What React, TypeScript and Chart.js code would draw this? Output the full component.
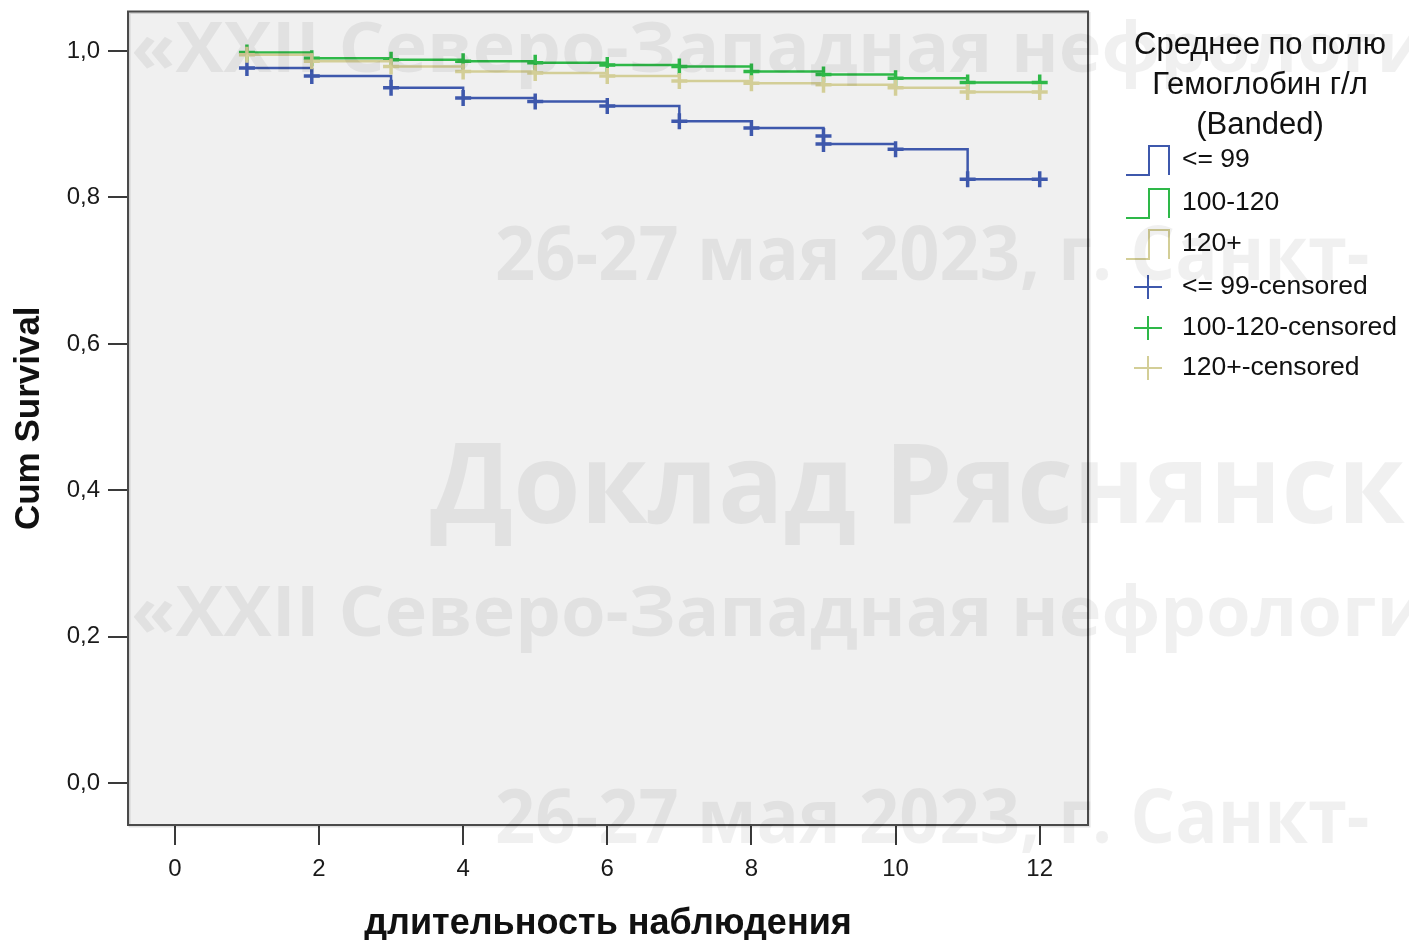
import React, { useEffect, useRef } from 'react';
import { Chart, registerables } from 'chart.js';

Chart.register(...registerables);

// ---------- data ----------
const xTickValues = [0, 2, 4, 6, 8, 10, 12];
const yTickValues = [0, 0.2, 0.4, 0.6, 0.8, 1.0];

const eventTimes = [1, 1.9, 3, 4, 5, 6, 7, 8, 9, 10, 11, 12];
const survLow = [0.977, 0.966, 0.95, 0.936, 0.931, 0.925, 0.904, 0.895, 0.873, 0.866, 0.825, 0.825];
const survMid = [0.998, 0.99, 0.988, 0.986, 0.984, 0.981, 0.979, 0.972, 0.968, 0.963, 0.957, 0.957];
const survHigh = [0.995, 0.986, 0.979, 0.972, 0.97, 0.966, 0.959, 0.956, 0.954, 0.95, 0.944, 0.944];

const censorTimesLow = [1, 1.9, 3, 4, 5, 6, 7, 8, 9, 9, 10, 11, 12];
const censorValsLow = [0.977, 0.966, 0.95, 0.936, 0.931, 0.925, 0.904, 0.895, 0.884, 0.873, 0.866, 0.825, 0.825];
const censorTimesMid = [1, 1.9, 3, 4, 5, 6, 7, 8, 9, 10, 11, 12];
const censorValsMid = [0.998, 0.99, 0.988, 0.986, 0.984, 0.981, 0.979, 0.972, 0.968, 0.963, 0.957, 0.957];
const censorTimesHigh = [1, 1.9, 3, 4, 5, 6, 7, 8, 9, 10, 11, 12];
const censorValsHigh = [0.995, 0.986, 0.979, 0.972, 0.97, 0.966, 0.959, 0.956, 0.954, 0.95, 0.944, 0.944];

const groupLabels = ['<= 99', '100-120', '120+'];
const censorLabels = ['<= 99-censored', '100-120-censored', '120+-censored'];
const legendTitle = ['Среднее по полю', 'Гемоглобин г/л', '(Banded)'];
const xTitle = 'длительность наблюдения';
const yTitle = 'Cum Survival';

const watermarkLines = [
  '«XXII Северо-Западная нефрологи',
  '26-27 мая 2023, г. Санкт-',
  'Доклад Ряснянско',
];

const COLORS = ['#3E58AC', '#2EB848', '#D3CE97'];

const pts = (xs: number[], ys: number[]) => xs.map((x, i) => ({ x, y: ys[i] }));

const bgPlugin = {
  id: 'bg',
  beforeDraw(chart: any) {
    const { ctx, chartArea: a } = chart;
    ctx.save();
    ctx.fillStyle = '#ffffff';
    ctx.fillRect(0, 0, chart.width, chart.height);
    ctx.fillStyle = '#f0f0f0';
    ctx.fillRect(a.left, a.top, a.right - a.left, a.bottom - a.top);
    ctx.restore();
  },
  beforeDatasetsDraw(chart: any) {
    const { ctx, chartArea: a } = chart;
    ctx.save();
    ctx.strokeStyle = 'rgba(0,0,0,0.12)';
    ctx.lineWidth = 2;
    ctx.strokeRect(a.left + 1.5, a.top + 1.5, a.right - a.left, a.bottom - a.top);
    ctx.strokeStyle = '#4a4a4a';
    ctx.lineWidth = 2;
    ctx.strokeRect(a.left, a.top, a.right - a.left, a.bottom - a.top);
    ctx.restore();
  },
};

const legendPlugin = {
  id: 'kmLegend',
  afterDraw(chart: any) {
    const { ctx } = chart;
    ctx.save();
    ctx.fillStyle = '#111';
    ctx.textBaseline = 'middle';
    ctx.textAlign = 'center';
    ctx.font = '31px "Liberation Sans", Arial, sans-serif';
    const titleY = [45, 85, 125];
    legendTitle.forEach((t, i) => ctx.fillText(t, 1260, titleY[i]));
    ctx.textAlign = 'left';
    ctx.font = '26.5px "Liberation Sans", Arial, sans-serif';
    const stepY = [160, 203, 244];
    groupLabels.forEach((t, i) => {
      const cy = stepY[i];
      ctx.strokeStyle = COLORS[i];
      ctx.lineWidth = 2;
      ctx.beginPath();
      ctx.moveTo(1126, cy + 15);
      ctx.lineTo(1149, cy + 15);
      ctx.lineTo(1149, cy - 14);
      ctx.lineTo(1169, cy - 14);
      ctx.lineTo(1169, cy + 15);
      ctx.stroke();
      ctx.fillStyle = '#111';
      ctx.fillText(t, 1182, cy);
    });
    const crossY = [287, 328, 368];
    censorLabels.forEach((t, i) => {
      const cy = crossY[i];
      ctx.strokeStyle = COLORS[i];
      ctx.lineWidth = 2;
      ctx.beginPath();
      ctx.moveTo(1134, cy);
      ctx.lineTo(1162, cy);
      ctx.moveTo(1148, cy - 12);
      ctx.lineTo(1148, cy + 12);
      ctx.stroke();
      ctx.fillStyle = '#111';
      ctx.fillText(t, 1182, cy);
    });
    ctx.restore();
  },
};

const watermarkPlugin = {
  id: 'watermark',
  afterDraw(chart: any) {
    const { ctx } = chart;
    ctx.save();
    ctx.fillStyle = 'rgba(0,0,0,0.06)';
    ctx.textBaseline = 'alphabetic';
    ctx.textAlign = 'left';
    const draw = (text: string, prefix: string, target: number, x: number, y: number, size: number) => {
      ctx.font = `bold ${size}px "Open Sans", sans-serif`;
      const w = ctx.measureText(prefix).width;
      const sx = target / w;
      ctx.save();
      ctx.translate(x, y);
      ctx.scale(sx, 1);
      ctx.fillText(text, 0, 0);
      ctx.restore();
    };
    draw(watermarkLines[0], '«XXII Северо-Запа', 679, 131, 72, 70);
    draw(watermarkLines[1], '26-27 мая 2023,', 545, 495, 280, 76);
    draw(watermarkLines[2], 'Доклад Ряс', 643, 430, 523, 112);
    draw(watermarkLines[0], '«XXII Северо-Запа', 679, 131, 636, 70);
    draw(watermarkLines[1], '26-27 мая 2023,', 545, 495, 843, 76);
    ctx.restore();
  },
};

export default function App() {
  const ref = useRef<HTMLCanvasElement | null>(null);
  useEffect(() => {
    if (!ref.current) return;
    const lineDs = (label: string, ys: number[], color: string) => ({
      label,
      data: pts(eventTimes, ys),
      borderColor: color,
      backgroundColor: color,
      borderWidth: 2.5,
      stepped: true,
      pointRadius: 0,
      fill: false,
    });
    const censorDs = (label: string, xs: number[], ys: number[], color: string) => ({
      label,
      data: pts(xs, ys),
      showLine: false,
      borderColor: color,
      backgroundColor: color,
      pointStyle: 'cross',
      pointRadius: 8,
      pointBorderWidth: 3.5,
    });
    const chart = new Chart(ref.current, {
      type: 'line',
      data: {
        datasets: [
          lineDs(groupLabels[2], survHigh, COLORS[2]),
          censorDs(censorLabels[2], censorTimesHigh, censorValsHigh, COLORS[2]),
          lineDs(groupLabels[1], survMid, COLORS[1]),
          censorDs(censorLabels[1], censorTimesMid, censorValsMid, COLORS[1]),
          lineDs(groupLabels[0], survLow, COLORS[0]),
          censorDs(censorLabels[0], censorTimesLow, censorValsLow, COLORS[0]),
        ] as any,
      },
      options: {
        responsive: false,
        animation: false,
        layout: { padding: { left: 0, top: 8, right: 321, bottom: 0 } },
        plugins: { legend: { display: false }, tooltip: { enabled: false } },
        scales: {
          x: {
            type: 'linear',
            min: -0.65,
            max: 12.67,
            afterBuildTicks: (s: any) => {
              s.ticks = xTickValues.map((v) => ({ value: v }));
            },
            afterFit: (s: any) => {
              s.height = 115;
              s.paddingLeft = 0;
              s.paddingRight = 0;
            },
            grid: { drawOnChartArea: false, drawTicks: true, tickLength: 20, color: '#3a3a3a', lineWidth: 2 },
            border: { display: false },
            ticks: {
              autoSkip: false,
              maxRotation: 0,
              padding: 10,
              color: '#1a1a1a',
              font: { family: '"Liberation Sans", Arial, sans-serif', size: 24 },
              callback: (v: any) => String(v),
            },
            title: {
              display: true,
              text: xTitle,
              color: '#111',
              font: { family: '"Liberation Sans", Arial, sans-serif', size: 36, weight: 'bold', lineHeight: 0.9 },
              padding: { top: 0, bottom: 0 },
            },
          },
          y: {
            type: 'linear',
            min: -0.057,
            max: 1.054,
            afterBuildTicks: (s: any) => {
              s.ticks = yTickValues.map((v) => ({ value: v }));
            },
            afterFit: (s: any) => {
              s.width = 128;
              s.paddingTop = 0;
              s.paddingBottom = 0;
            },
            grid: { drawOnChartArea: false, drawTicks: true, tickLength: 20, color: '#3a3a3a', lineWidth: 2 },
            border: { display: false },
            ticks: {
              padding: 8,
              color: '#1a1a1a',
              font: { family: '"Liberation Sans", Arial, sans-serif', size: 24 },
              callback: (v: any) => Number(v).toFixed(1).replace('.', ','),
            },
            title: {
              display: true,
              text: yTitle,
              color: '#111',
              font: { family: '"Liberation Sans", Arial, sans-serif', size: 35, weight: 'bold', lineHeight: 1 },
              padding: { top: 12, bottom: 0 },
            },
          },
        },
      } as any,
      plugins: [bgPlugin, legendPlugin, watermarkPlugin],
    });
    return () => chart.destroy();
  }, []);
  return (
    <div style={{ position: 'fixed', left: 0, top: 0, width: 1409, height: 940, background: '#fff' }}>
      <canvas ref={ref} width={1409} height={940} style={{ display: 'block' }} />
    </div>
  );
}
